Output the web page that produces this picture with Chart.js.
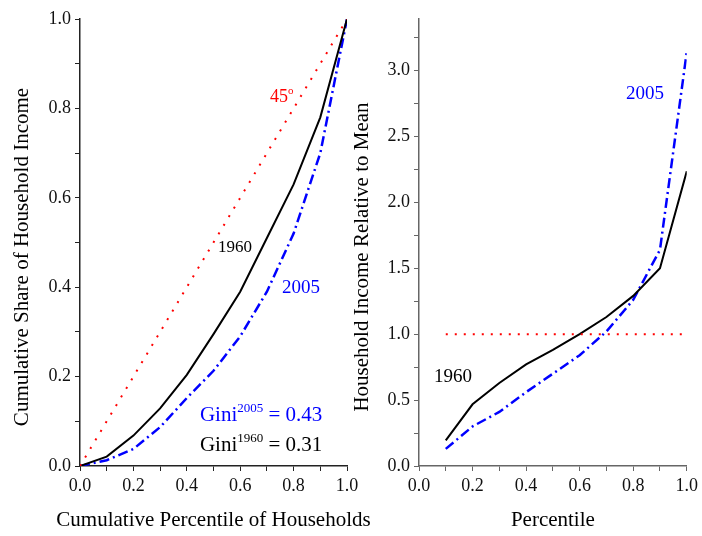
<!DOCTYPE html>
<html>
<head>
<meta charset="utf-8">
<script src="https://cdn.jsdelivr.net/npm/chart.js@4.4.1/dist/chart.umd.min.js"></script>
<style>
  html, body { margin: 0; padding: 0; background: #fff; }
  #wrap { position: relative; width: 702px; height: 536px; overflow: hidden; }
  canvas { position: absolute; top: 0; }
  #lorenz-chart { left: 0; }
  #relative-chart { left: 340px; }
</style>
</head>
<body>
<div id="wrap">
  <canvas id="lorenz-chart" width="372" height="536"></canvas>
  <canvas id="relative-chart" width="362" height="536"></canvas>
</div>
<script>
const serif = '"Liberation Serif", "Times New Roman", serif';

// left panel: Lorenz curves
const householdPct = [0, 0.1, 0.2, 0.3, 0.4, 0.5, 0.6, 0.7, 0.8, 0.9, 1.0];
const share1960 = [0, 0.021, 0.068, 0.129, 0.204, 0.295, 0.39, 0.51, 0.63, 0.78, 1.0];
const share2005 = [0, 0.013, 0.038, 0.087, 0.152, 0.213, 0.29, 0.39, 0.52, 0.70, 1.0];
const equalityX = [0, 1];
const equalityY = [0, 1];

// right panel: income relative to mean
const percentile = [0.1, 0.2, 0.3, 0.4, 0.5, 0.6, 0.7, 0.8, 0.9, 1.0];
const relative1960 = [0.195, 0.468, 0.63, 0.77, 0.88, 1.0, 1.13, 1.29, 1.50, 2.235];
const relative2005 = [0.13, 0.30, 0.41, 0.56, 0.70, 0.84, 1.02, 1.26, 1.64, 3.14];
const meanX = [0.1, 1.0];
const meanY = [1, 1];

const unitTickLabels = ["0.0", "0.2", "0.4", "0.6", "0.8", "1.0"];
const relativeTickLabels = ["0.0", "0.5", "1.0", "1.5", "2.0", "2.5", "3.0"];

const points = (xs, ys) => xs.map((x, i) => ({ x: x, y: ys[i] }));

function makeNotes(xTitle, yTitle, notes) {
    return {
        id: "notes",
        afterDraw(chart) {
            const { ctx, chartArea, scales } = chart;
            ctx.save();
            ctx.fillStyle = "#000";
            ctx.font = "21px " + serif;
            ctx.textAlign = "center";
            ctx.textBaseline = "middle";
            ctx.fillText(xTitle, (chartArea.left + chartArea.right) / 2, 520);
            ctx.save();
            ctx.translate(22, 257);
            ctx.rotate(-Math.PI / 2);
            ctx.fillText(yTitle, 0, 0);
            ctx.restore();

            ctx.textAlign = "left";
            ctx.textBaseline = "alphabetic";
            notes.forEach((n) => {
                let px = scales.x.getPixelForValue(n.x);
                const py = scales.y.getPixelForValue(n.y);
                ctx.fillStyle = n.color;
                n.parts.forEach((p) => {
                    ctx.font = p.size + "px " + serif;
                    ctx.fillText(p.text, px, py - (p.rise || 0));
                    px += ctx.measureText(p.text).width;
                });
            });
            ctx.restore();
        },
    };
}

function axis(color, labels, min, max, step, size) {
    return {
        type: "linear",
        min: min,
        max: max,
        ticks: {
            stepSize: step,
            includeBounds: false,
            autoSkip: false,
            maxRotation: 0,
            padding: 4,
            color: "#111",
            font: { family: serif, size: 18 },
            callback: (v) => (labels.includes(v.toFixed(1)) ? v.toFixed(1) : ""),
        },
        grid: { drawOnChartArea: false, tickLength: 5, color: color, lineWidth: 1 },
        border: { color: color, width: 1.5 },
        afterFit: size,
    };
}

const blueDash = [10, 4, 2, 4];

const lorenzCtx = document.getElementById("lorenz-chart");

let lorenzChart = new Chart(lorenzCtx, {
    type: "line",
    data: {
        datasets: [
            {
                label: "45",
                data: points(equalityX, equalityY),
                borderColor: "#ff0000",
                borderWidth: 2,
                borderDash: [2, 8],
            },
            {
                label: "1960",
                data: points(householdPct, share1960),
                borderColor: "#000",
                borderWidth: 2,
            },
            {
                label: "2005",
                data: points(householdPct, share2005),
                borderColor: "#0000ff",
                borderWidth: 2.5,
                borderDash: blueDash,
            },
        ],
    },
    options: {
        responsive: false,
        animation: false,
        layout: { padding: { top: 19, right: 25, bottom: 0, left: 0 } },
        elements: { point: { radius: 0 }, line: { tension: 0 } },
        plugins: { legend: { display: false }, tooltip: { enabled: false } },
        scales: {
            x: axis("#222", unitTickLabels, 0, 1, 0.1, (s) => { s.height = 70; }),
            y: axis("#222", unitTickLabels, 0, 1, 0.1, (s) => { s.width = 80; }),
        },
    },
    plugins: [
        makeNotes("Cumulative Percentile of Households", "Cumulative Share of Household Income", [
            { x: 0.712, y: 0.815, color: "#ff0000", parts: [{ text: "45", size: 18 }, { text: "o", size: 11, rise: 8 }] },
            { x: 0.517, y: 0.479, color: "#000", parts: [{ text: "1960", size: 17 }] },
            { x: 0.757, y: 0.388, color: "#0000ff", parts: [{ text: "2005", size: 19 }] },
            { x: 0.449, y: 0.101, color: "#0000ff", parts: [{ text: "Gini", size: 21 }, { text: "2005", size: 13, rise: 9 }, { text: " = 0.43", size: 21 }] },
            { x: 0.449, y: 0.034, color: "#000", parts: [{ text: "Gini", size: 21 }, { text: "1960", size: 13, rise: 9 }, { text: " = 0.31", size: 21 }] },
        ]),
    ],
});

const relativeCtx = document.getElementById("relative-chart");

let relativeChart = new Chart(relativeCtx, {
    type: "line",
    data: {
        datasets: [
            {
                label: "Mean",
                data: points(meanX, meanY),
                borderColor: "#ff0000",
                borderWidth: 2,
                borderDash: [2, 7],
            },
            {
                label: "1960",
                data: points(percentile, relative1960),
                borderColor: "#000",
                borderWidth: 2,
            },
            {
                label: "2005",
                data: points(percentile, relative2005),
                borderColor: "#0000ff",
                borderWidth: 2.5,
                borderDash: blueDash,
            },
        ],
    },
    options: {
        responsive: false,
        animation: false,
        layout: { padding: { top: 19, right: 14, bottom: 0, left: 0 } },
        elements: { point: { radius: 0 }, line: { tension: 0 } },
        plugins: { legend: { display: false }, tooltip: { enabled: false } },
        scales: {
            x: axis("#666", unitTickLabels, 0, 1, 0.1, (s) => { s.height = 70; }),
            y: axis("#666", relativeTickLabels, 0, 3.39, 0.25, (s) => { s.width = 79; }),
        },
    },
    plugins: [
        makeNotes("Percentile", "Household Income Relative to Mean", [
            { x: 0.773, y: 2.786, color: "#0000ff", parts: [{ text: "2005", size: 19 }] },
            { x: 0.056, y: 0.634, color: "#000", parts: [{ text: "1960", size: 19 }] },
        ]),
    ],
});
</script>
</body>
</html>
